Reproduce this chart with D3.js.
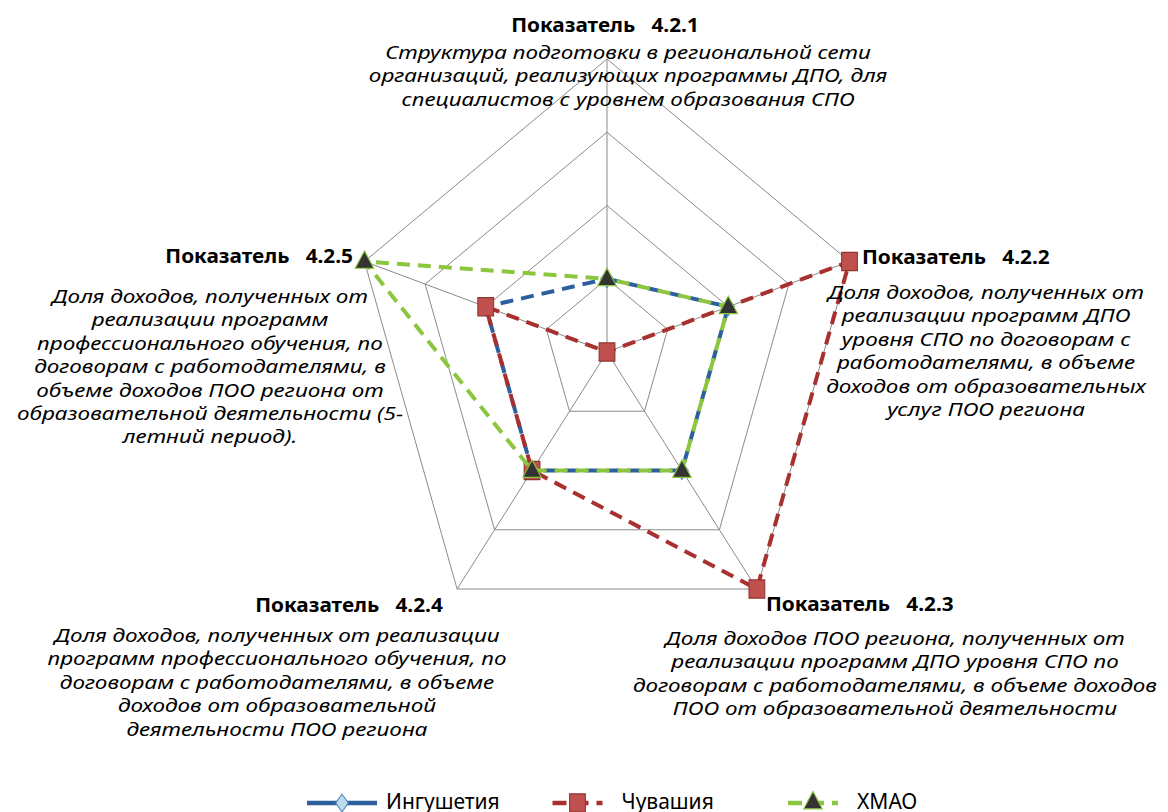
<!DOCTYPE html>
<html>
<head>
<meta charset="utf-8">
<script src="https://cdn.jsdelivr.net/npm/d3@7"></script>
<style>
  body { margin: 0; background: #fff; }
  svg { display: block; }
  text { font-family: "Noto Sans", sans-serif; fill: #000; }
</style>
</head>
<body>
<svg id="chart" width="1168" height="812"></svg>
<script>
// data
var categories = ['4.2.1', '4.2.2', '4.2.3', '4.2.4', '4.2.5'];
var descriptions = [
  ['Структура подготовки в региональной сети', 'организаций, реализующих программы ДПО, для', 'специалистов с уровнем образования СПО'],
  ['Доля доходов, полученных от', 'реализации программ ДПО', 'уровня СПО по договорам с', 'работодателями, в объеме', 'доходов от образовательных', 'услуг ПОО региона'],
  ['Доля доходов ПОО региона, полученных от', 'реализации программ ДПО уровня СПО по', 'договорам с работодателями, в объеме доходов', 'ПОО от образовательной деятельности'],
  ['Доля доходов, полученных от реализации', 'программ профессионального обучения, по', 'договорам с работодателями, в объеме', 'доходов от образовательной', 'деятельности ПОО региона'],
  ['Доля доходов, полученных от', 'реализации программ', 'профессионального обучения, по', 'договорам с работодателями, в', 'объеме доходов ПОО региона от', 'образовательной деятельности (5-', 'летний период).']
];
var seriesNames = ['Ингушетия', 'Чувашия', 'ХМАО'];
var ingushetia = [1, 2, 2, 2, 2];
var chuvashia = [0, 4, 4, 2, 2];
var hmao = [1, 2, 2, 2, 4];
var ringTicks = [1, 2, 3, 4];

// layout
var cx = 607, cy = 352;
var lineH = 23.4;
var labelPos = [
  { hx: 605, hy: 32, ha: 'middle', dx: 628, dy: 59 },
  { hx: 862, hy: 264, ha: 'start', dx: 986, dy: 299 },
  { hx: 766, hy: 611, ha: 'start', dx: 895, dy: 645 },
  { hx: 349, hy: 612, ha: 'middle', dx: 277, dy: 642 },
  { hx: 353, hy: 263, ha: 'end', dx: 210, dy: 303 }
];
var styles = [
  { color: '#2d5f9e', fill: '#bcdde8', edge: '#4a7ebb', symbol: d3.symbolDiamond2, size: 200, sx: 0.72, dash: null, offset: 0 },
  { color: '#a8302e', fill: '#c0504d', edge: '#8e3532', symbol: d3.symbolSquare, size: 330, sx: 0.87, dash: '14,8', offset: 4 },
  { color: '#8cc63f', fill: '#333333', edge: '#8cc63f', symbol: d3.symbolTriangle, size: 175, sx: 0.92, dash: '14,8', offset: 11 }
];

var series = [ingushetia, chuvashia, hmao].map(function (vals, k) {
  return { name: seriesNames[k], values: vals, style: styles[k] };
});

var svg = d3.select('#chart');

var rx = d3.scaleLinear().domain([0, 4]).range([0, 255]);
var ry = d3.scaleLinear().domain([0, 4]).range([0, 293]);
var angle = d3.scaleLinear().domain([0, categories.length]).range([0, 2 * Math.PI]);

function px(i, v) { return cx + rx(v) * Math.sin(angle(i)); }
function py(i, v) { return cy - ry(v) * Math.cos(angle(i)); }

var polygon = d3.line()
  .x(function (d) { return px(d.i, d.v); })
  .y(function (d) { return py(d.i, d.v); })
  .curve(d3.curveLinearClosed);

// grid rings
var grid = svg.append('g').attr('class', 'grid');
grid.selectAll('.ring')
  .data(ringTicks)
  .enter().append('path')
  .attr('class', 'ring')
  .attr('d', function (t) {
    return polygon(categories.map(function (c, i) { return { i: i, v: t }; }));
  })
  .attr('fill', 'none')
  .attr('stroke', '#8a8a8a')
  .attr('stroke-width', 1);

grid.selectAll('.spoke')
  .data(categories)
  .enter().append('line')
  .attr('class', 'spoke')
  .attr('x1', cx).attr('y1', cy)
  .attr('x2', function (d, i) { return px(i, 4); })
  .attr('y2', function (d, i) { return py(i, 4); })
  .attr('stroke', '#8a8a8a')
  .attr('stroke-width', 1);

// series
series.forEach(function (s) {
  var pts = s.values.map(function (v, i) { return { i: i, v: v }; });
  var g = svg.append('g').attr('class', 'series');
  g.append('path')
    .attr('d', polygon(pts))
    .attr('fill', 'none')
    .attr('stroke', s.style.color)
    .attr('stroke-width', 4)
    .attr('stroke-dasharray', '13,8')
    .attr('stroke-dashoffset', s.style.offset);
  g.selectAll('.marker')
    .data(pts)
    .enter().append('path')
    .attr('class', 'marker')
    .attr('d', d3.symbol().type(s.style.symbol).size(s.style.size))
    .attr('transform', function (d) {
      var dy = s.style.symbol === d3.symbolTriangle ? 1 : 0;
      return 'translate(' + px(d.i, d.v) + ',' + (py(d.i, d.v) + dy) + ') scale(' + s.style.sx + ',1)';
    })
    .attr('fill', s.style.fill)
    .attr('stroke', s.style.edge)
    .attr('stroke-width', 1.2);
});

// axis labels
var labels = svg.append('g').attr('class', 'labels');
categories.forEach(function (c, i) {
  var p = labelPos[i];
  labels.append('text')
    .attr('transform', 'translate(' + p.hx + ',' + p.hy + ') scale(1.04,1)')
    .attr('text-anchor', p.ha)
    .attr('font-size', '20px')
    .attr('font-weight', 'bold')
    .style('white-space', 'pre')
    .text('Показатель   ' + c);
  labels.append('g')
    .selectAll('text')
    .data(descriptions[i])
    .enter().append('text')
    .attr('transform', function (d, j) {
      return 'translate(' + p.dx + ',' + (p.dy + j * lineH) + ') scale(1.25,1)';
    })
    .attr('text-anchor', 'middle')
    .attr('font-size', '18px')
    .attr('font-style', 'italic')
    .text(function (d) { return d; });
});

// legend
var legendX = d3.scalePoint().domain(seriesNames).range([342, 813]);
var ly = 803;
var legend = svg.append('g').attr('class', 'legend');
series.forEach(function (s) {
  var half = s.style.dash ? 25 : 35;
  var item = legend.append('g').attr('transform', 'translate(' + legendX(s.name) + ',' + ly + ')');
  item.append('line')
    .attr('x1', -half).attr('x2', half)
    .attr('stroke', s.style.color)
    .attr('stroke-width', 4.5)
    .attr('stroke-dasharray', s.style.dash);
  item.append('path')
    .attr('d', d3.symbol().type(s.style.symbol).size(s.style.size))
    .attr('transform', 'scale(' + s.style.sx + ',1)')
    .attr('fill', s.style.fill)
    .attr('stroke', s.style.edge)
    .attr('stroke-width', 1.2);
  item.append('text')
    .attr('x', 44).attr('y', 6)
    .attr('font-size', '21px')
    .text(s.name);
});
</script>
</body>
</html>
